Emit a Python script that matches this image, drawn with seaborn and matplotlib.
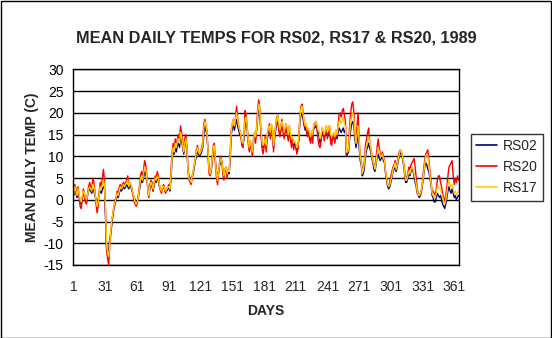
import numpy as np
import pandas as pd
import matplotlib
matplotlib.use("Agg")
import matplotlib.pyplot as plt
import seaborn as sns
from matplotlib.patches import Rectangle

# ---------------- data ----------------
title = "MEAN DAILY TEMPS FOR RS02, RS17 & RS20, 1989"
series_names = ["RS02", "RS20", "RS17"]
tick_labels = [1, 31, 61, 91, 121, 151, 181, 211, 241, 271, 301, 331, 361]
y_ticks = [-15, -10, -5, 0, 5, 10, 15, 20, 25, 30]

rs02 = [
    1.0, 2.5, 1.5, 0.5, 2.0, 1.0, -0.5, -1.0, 0.5, 1.5,
    1.0, 0.0, -0.5, 1.0, 2.0, 2.5, 2.0, 1.5, 2.5, 2.0,
    1.0, 0.0, -1.0, 0.0, 1.5, 2.0, 1.5, 2.5, 3.0, 2.5,
    -4.0, -11.0, -12.0, -11.5, -9.0, -7.5, -5.5, -3.5, -2.0, -1.0,
    0.0, 1.0, 0.5, 1.5, 2.5, 2.0, 2.5, 3.0, 2.5, 3.0,
    3.5, 3.0, 2.5, 3.5, 3.0, 2.0, 1.5, 0.5, 0.0, -0.5,
    -0.5, 0.5, 2.0, 3.5, 4.5, 4.0, 5.0, 6.5, 6.0, 5.0,
    3.0, 1.0, 2.5, 3.5, 3.0, 2.0, 3.5, 4.5, 4.0, 5.0,
    4.5, 3.0, 2.5, 2.0, 2.5, 3.0, 2.5, 2.0, 2.0, 2.5,
    3.0, 2.0, 5.0, 9.5, 11.0, 10.5, 12.0, 11.0, 12.5, 13.0,
    12.0, 14.5, 13.5, 12.0, 10.5, 12.5, 13.5, 11.5, 7.0, 5.5,
    5.0, 4.5, 5.5, 6.0, 7.5, 9.0, 10.0, 11.5, 10.5, 10.0,
    10.5, 11.0, 12.0, 15.0, 17.0, 16.0, 15.0, 11.0, 7.0, 6.0,
    6.5, 9.0, 11.0, 11.5, 9.0, 6.5, 5.0, 6.5, 8.0, 8.5,
    9.0, 7.0, 5.5, 6.5, 7.0, 6.0, 6.5, 6.0, 9.5, 15.0,
    16.5, 17.0, 16.0, 17.5, 18.5, 17.0, 16.0, 15.0, 14.5, 13.5,
    12.5, 14.0, 17.0, 18.0, 16.5, 14.0, 12.5, 13.0, 12.0, 11.0,
    13.0, 14.5, 14.0, 16.0, 19.0, 21.0, 19.5, 16.0, 13.0, 12.0,
    12.5, 13.5, 12.0, 14.0, 15.5, 16.0, 15.0, 16.5, 15.5, 12.0,
    14.0, 16.0, 17.5, 18.0, 16.5, 15.0, 16.0, 17.5, 16.0, 15.0,
    15.5, 16.5, 15.5, 14.0, 16.0, 14.5, 13.0, 13.5, 12.5, 13.0,
    12.5, 11.5, 12.0, 14.0, 18.0, 19.5, 20.0, 18.5, 17.0, 16.0,
    16.5, 15.0, 15.5, 14.5, 14.0, 15.0, 14.0, 16.5, 16.5, 17.0,
    16.5, 15.0, 15.5, 13.0, 14.0, 15.5, 15.0, 14.5, 15.0, 16.0,
    14.5, 15.5, 16.0, 14.0, 13.5, 14.0, 14.5, 13.5, 15.0, 14.0,
    15.5, 16.5, 16.0, 15.5, 16.0, 16.5, 15.5, 16.0, 10.0, 10.5,
    11.0, 14.0, 16.0, 17.5, 18.0, 17.0, 14.0, 12.0, 13.5, 15.0,
    12.0, 9.0, 8.0, 5.5, 6.0, 7.5, 10.0, 11.5, 12.0, 13.0,
    12.0, 11.0, 9.5, 8.5, 7.0, 6.5, 8.0, 10.0, 10.5, 9.5,
    9.0, 9.5, 10.0, 9.0, 8.5, 6.0, 4.5, 3.0, 2.5, 3.0,
    4.0, 5.0, 6.5, 7.0, 7.5, 6.5, 7.5, 9.0, 10.0, 11.0,
    10.5, 9.5, 8.0, 6.0, 4.0, 4.0, 5.0, 6.0, 5.5, 6.5,
    7.5, 6.5, 5.5, 4.0, 3.0, 1.5, 1.0, 0.5, 1.0, 2.0,
    3.5, 5.5, 7.5, 8.5, 8.0, 7.0, 6.5, 5.0, 3.5, 1.0,
    0.5, -0.5, -0.5, 0.5, 1.5, 1.0, 0.5, 1.0, 0.0, -1.0,
    -1.5, -2.0, -1.0, 0.5, 2.0, 3.0, 2.0, 1.5, 2.5, 1.5,
    0.5, 1.0, 0.0, 0.5, 1.0,
]

rs20 = [
    2.0, 3.5, 2.5, 1.0, 3.0, 0.5, -1.5, -2.0, 0.0, 2.5,
    1.5, -0.5, -1.0, 1.5, 3.0, 4.0, 3.0, 2.5, 5.0, 4.0,
    2.0, -1.0, -3.0, -1.5, 2.0, 4.0, 3.0, 5.0, 7.0, 4.5,
    -3.0, -12.0, -13.5, -15.0, -10.5, -8.0, -5.0, -3.0, -1.5, 0.0,
    0.5, 2.0, 1.0, 3.0, 3.5, 2.5, 3.5, 4.0, 3.0, 4.0,
    4.5, 5.5, 3.5, 4.0, 3.5, 2.5, 1.0, -0.5, -1.0, -1.5,
    -1.0, 1.0, 3.0, 5.5, 6.5, 5.0, 7.0, 9.0, 8.0, 6.0,
    2.0, 0.5, 3.5, 4.5, 4.0, 2.0, 4.0, 5.5, 5.0, 6.5,
    5.5, 3.5, 2.0, 1.5, 3.0, 3.5, 2.0, 1.5, 2.5, 3.0,
    3.5, 2.5, 7.0, 11.0, 13.0, 12.0, 14.0, 12.5, 14.0, 15.0,
    14.0, 17.0, 15.5, 13.0, 11.0, 14.0, 15.0, 12.5, 6.5, 4.5,
    4.0, 3.5, 5.0, 6.5, 8.0, 9.5, 11.5, 12.5, 11.0, 10.5,
    11.0, 12.0, 13.5, 17.5, 18.5, 17.0, 16.0, 10.0, 6.0, 5.5,
    7.0, 10.0, 12.5, 13.0, 8.0, 5.0, 3.5, 6.0, 9.0, 10.0,
    8.5, 6.0, 4.5, 7.0, 7.5, 5.0, 7.0, 6.5, 11.0, 16.0,
    17.5, 18.5, 17.0, 19.0, 21.5, 19.0, 17.0, 16.0, 15.0, 12.5,
    12.0, 15.0, 20.5, 19.5, 17.0, 13.0, 11.0, 13.5, 11.5, 10.0,
    14.0, 15.5, 13.0, 17.0, 21.0, 23.0, 21.0, 15.5, 12.0, 10.5,
    12.0, 14.5, 11.0, 15.0, 16.0, 17.5, 14.0, 17.0, 16.0, 11.0,
    15.0, 17.0, 19.0, 19.5, 16.0, 14.5, 17.0, 18.5, 15.5, 14.0,
    16.5, 17.5, 15.0, 13.5, 17.0, 14.0, 12.0, 14.0, 11.5, 12.5,
    12.0, 10.5, 11.5, 15.0, 19.5, 21.5, 22.0, 20.0, 17.5, 16.5,
    17.0, 14.5, 16.0, 14.0, 13.0, 15.5, 13.0, 17.0, 17.5, 18.0,
    17.0, 14.0, 12.5, 12.0, 13.5, 16.5, 15.0, 13.5, 15.5, 17.0,
    14.0, 16.5, 17.0, 13.0, 12.5, 14.5, 15.0, 13.0, 16.0, 14.5,
    17.0, 19.5, 20.0, 19.0, 20.5, 21.0, 19.5, 18.0, 10.5, 11.0,
    12.0, 17.0, 20.0, 22.0, 22.5, 20.0, 15.0, 13.0, 17.0, 20.0,
    14.0, 10.0, 9.0, 6.5, 7.5, 9.0, 12.5, 14.0, 15.5, 16.5,
    13.0, 12.0, 10.5, 9.0, 8.0, 7.5, 9.5, 12.0, 14.0, 12.0,
    10.5, 10.0, 11.0, 10.0, 9.0, 6.5, 5.0, 3.5, 3.0, 4.0,
    5.5, 6.5, 7.5, 8.0, 9.0, 7.5, 8.5, 10.0, 11.0, 11.5,
    11.0, 10.0, 8.5, 7.0, 5.0, 5.0, 6.0, 7.5, 7.0, 8.0,
    8.5, 9.0, 9.5, 7.5, 5.0, 2.5, 1.5, 1.0, 1.5, 2.5,
    4.5, 7.0, 9.0, 10.5, 11.0, 11.5, 9.0, 6.5, 4.5, 2.0,
    2.0, 1.5, 1.0, 2.5, 4.5, 5.5, 5.5, 4.0, 3.0, 1.5,
    0.5, -0.5, 1.0, 3.0, 5.5, 7.5, 8.0, 8.5, 9.0, 5.5,
    3.5, 5.0, 4.0, 5.5, 4.5,
]

rs17 = [
    1.5, 3.0, 2.0, 1.0, 2.5, 1.5, 0.0, -0.5, 1.0, 2.0,
    1.5, 0.5, 0.0, 1.0, 2.5, 3.0, 2.5, 2.0, 3.5, 3.0,
    1.5, 0.0, -1.5, -0.5, 1.5, 3.0, 2.5, 3.5, 4.5, 3.5,
    -2.0, -10.0, -12.5, -13.0, -10.0, -7.0, -4.5, -3.0, -1.5, -0.5,
    0.5, 1.5, 1.0, 2.0, 3.0, 2.5, 3.0, 3.5, 3.0, 3.5,
    4.0, 4.5, 3.0, 4.0, 3.5, 2.5, 1.5, 0.5, -0.5, -1.0,
    -0.5, 0.5, 2.5, 4.5, 5.5, 4.5, 6.0, 7.5, 7.0, 5.5,
    2.5, 1.0, 3.0, 4.0, 3.5, 2.5, 4.0, 5.0, 4.5, 5.5,
    5.0, 3.5, 2.5, 2.0, 3.0, 3.0, 2.5, 2.0, 2.5, 3.0,
    3.0, 2.5, 6.0, 10.0, 12.0, 11.0, 13.0, 12.0, 13.5, 14.0,
    13.0, 15.5, 14.5, 12.5, 11.0, 13.0, 14.0, 12.0, 7.0, 5.0,
    4.5, 4.0, 5.5, 6.5, 8.0, 9.5, 11.0, 12.0, 11.0, 10.5,
    11.0, 11.5, 13.0, 16.5, 18.0, 17.0, 15.5, 11.0, 7.0, 6.0,
    7.0, 9.5, 12.0, 12.5, 9.0, 6.0, 4.5, 6.5, 8.5, 9.5,
    9.0, 7.0, 5.5, 7.0, 7.5, 6.0, 7.0, 6.5, 10.5, 16.0,
    17.5, 18.5, 17.0, 18.5, 20.0, 18.5, 17.0, 16.0, 15.0, 13.5,
    13.0, 15.0, 18.5, 19.0, 17.0, 14.0, 12.0, 13.5, 12.5, 11.0,
    13.5, 15.5, 14.5, 16.5, 20.0, 22.0, 20.5, 16.5, 13.5, 12.5,
    13.0, 14.0, 12.5, 15.0, 16.5, 17.0, 15.5, 17.5, 16.5, 12.5,
    15.0, 17.0, 18.5, 19.5, 17.5, 16.0, 17.0, 18.0, 17.0, 15.5,
    16.5, 17.5, 16.5, 15.0, 17.0, 15.5, 14.0, 14.5, 13.0, 13.5,
    13.0, 12.0, 12.5, 15.0, 19.0, 21.0, 21.5, 19.5, 18.0, 17.0,
    17.5, 16.0, 16.5, 15.5, 14.5, 16.0, 15.0, 17.5, 17.5, 18.0,
    17.5, 16.0, 16.0, 14.0, 15.0, 16.5, 16.0, 15.0, 16.0, 17.0,
    15.5, 16.5, 17.0, 15.0, 14.5, 15.0, 15.5, 14.5, 16.0, 15.0,
    16.5, 18.0, 18.5, 17.5, 18.5, 19.0, 17.5, 17.0, 11.0, 11.0,
    11.5, 15.0, 18.0, 19.5, 20.0, 18.5, 15.5, 13.0, 15.0, 17.0,
    13.5, 10.0, 8.5, 6.0, 7.0, 8.5, 11.0, 12.5, 13.5, 14.5,
    13.0, 12.0, 10.0, 9.0, 8.0, 7.0, 8.5, 10.5, 12.0, 11.0,
    10.0, 10.0, 10.5, 9.5, 9.0, 6.5, 5.0, 3.5, 3.0, 3.5,
    4.5, 5.5, 7.0, 7.5, 8.5, 7.0, 8.0, 9.5, 10.5, 11.5,
    11.0, 10.0, 8.5, 6.5, 4.5, 4.5, 5.5, 6.5, 6.0, 7.0,
    7.5, 7.0, 6.0, 5.0, 3.5, 2.0, 1.0, 1.0, 1.5, 2.5,
    4.0, 6.0, 8.0, 10.0, 10.5, 10.0, 8.0, 5.5, 4.0, 1.5,
    1.0, 0.5, 0.5, 1.5, 3.0, 3.0, 2.5, 2.5, 1.5, 0.5,
    -0.5, -1.0, 0.0, 1.5, 3.5, 4.5, 3.5, 3.0, 3.5, 2.5,
    1.5, 2.0, 1.0, 1.5, 2.0,
]

days = list(range(1, len(rs02) + 1))

# ---------------- build long table ----------------
frames = []
for name, vals in zip(series_names, [rs02, rs20, rs17]):
    frames.append(pd.DataFrame({"day": days[:len(vals)], "temp": vals, "station": name}))
df = pd.concat(frames, ignore_index=True)

colors = {"RS02": "#000080", "RS20": "#FF0000", "RS17": "#FFCC00"}

sns.set_theme(style="white")
plt.rcParams["font.family"] = ["Liberation Sans", "DejaVu Sans"]

fig = plt.figure(figsize=(5.52, 3.38), dpi=100)
fig.patch.set_facecolor("white")
ax = fig.add_axes([73.3 / 552, 1 - 265 / 338, (459 - 73.3) / 552, (265 - 69.3) / 338])

sns.lineplot(data=df, x="day", y="temp", hue="station", hue_order=series_names,
             palette=colors, linewidth=1.0, legend=False, ax=ax, estimator=None)

ax.set_xlim(0.5, 365.5)
ax.set_ylim(-15, 30)
ax.set_yticks(y_ticks)
ax.set_yticklabels([str(v) for v in y_ticks], fontsize=10)
ax.yaxis.grid(True, color="black", linewidth=1.0)
ax.set_axisbelow(True)

# category-axis style: ticks on boundaries, labels on category centres
ax.set_xticks([t - 0.5 for t in tick_labels])
ax.set_xticklabels([])
ax.set_xticks(tick_labels, minor=True)
ax.set_xticklabels([str(t) for t in tick_labels], minor=True, fontsize=10)
ax.tick_params(axis="x", which="minor", length=0, pad=11)
ax.tick_params(axis="x", which="major", length=4, width=1, color="black", direction="out")
ax.tick_params(axis="y", length=4, width=1, color="black", direction="out", pad=3)
ax.tick_params(colors="black")

for sp in ax.spines.values():
    sp.set_color("black")
    sp.set_linewidth(1.0)

ax.set_xlabel("DAYS", fontsize=10, fontweight="bold", labelpad=7)
ax.set_ylabel("MEAN DAILY TEMP (C)", fontsize=10, fontweight="bold", labelpad=3)

fig.text(276 / 552, 1 - 38 / 338, title, ha="center", va="center",
         fontsize=11.7, fontweight="bold")

handles = [plt.Line2D([], [], color=colors[n], linewidth=1.2) for n in series_names]
leg = fig.legend(handles, series_names, loc="center left",
                 bbox_to_anchor=(470.5 / 552, 1 - 167 / 338), frameon=True,
                 fancybox=False, edgecolor="black", fontsize=10,
                 handlelength=1.5, handletextpad=0.4, borderpad=0.4,
                 labelspacing=0.5, borderaxespad=0)
leg.get_frame().set_linewidth(1.0)

fig.patches.append(Rectangle((0.5 / 552, 0.5 / 338), 1 - 1.5 / 552, 1 - 1.5 / 338,
                             transform=fig.transFigure, fill=False,
                             edgecolor="black", linewidth=1.0))

fig.savefig("out.png", dpi=100)
